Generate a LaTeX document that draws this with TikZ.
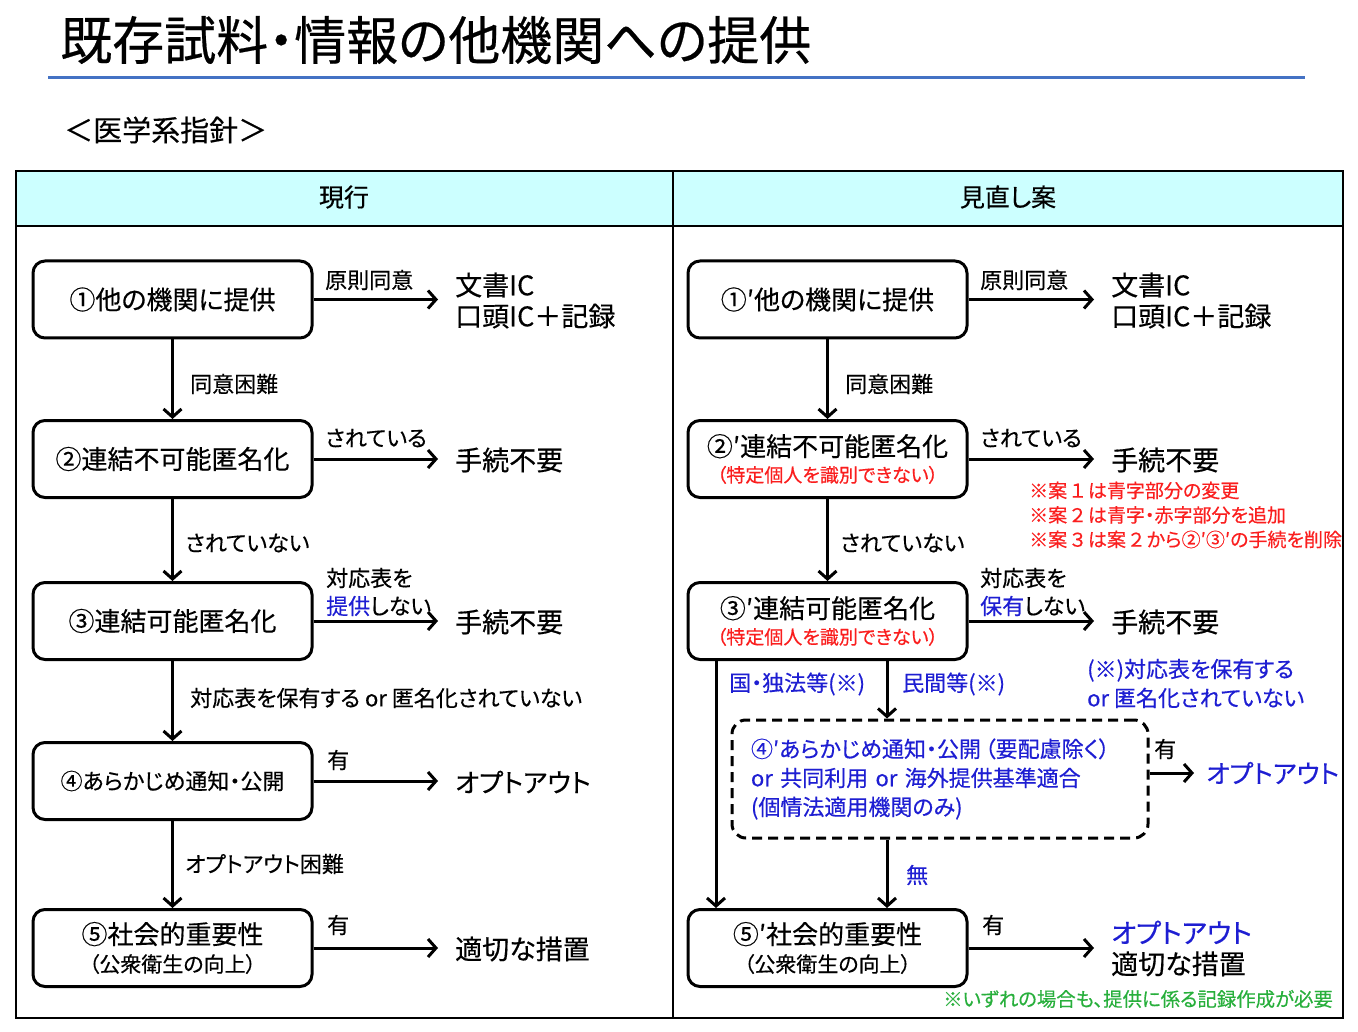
\documentclass[tikz,border=0pt]{standalone}
\usepackage{fontspec}
\setmainfont{Noto Sans CJK JP}[RawFeature={+palt}, FakeBold=0.4]
\usetikzlibrary{arrows.meta}
\newcommand\myfs[2]{\fontsize{#1}{#2}\selectfont}
\definecolor{jblue}{RGB}{30,30,210}
\definecolor{jred}{RGB}{250,30,30}
\definecolor{jgreen}{RGB}{40,175,60}
\definecolor{hdr}{RGB}{204,255,255}
\definecolor{tline}{RGB}{68,114,196}
\begin{document}
\begin{tikzpicture}[x=1pt,y=-1pt,
  box/.style={draw, line width=3pt, rounded corners=12pt, minimum width=279pt, minimum height=77pt, align=center, inner sep=2pt, font=\myfs{26}{30}},
  dbox/.style={draw, line width=3pt, dash pattern=on 10pt off 6pt, rounded corners=14pt, minimum width=416pt, minimum height=118pt, text width=378pt, align=left, font=\myfs{22}{29}, text=jblue},
  arr/.style={line width=3pt, -{Straight Barb[length=8pt,width=18pt]}},
  lbl/.style={anchor=west, inner sep=0pt, font=\myfs{22}{28}, align=left},
  res/.style={anchor=west, inner sep=0pt, font=\myfs{27}{31}, align=left},
  sub/.style={font=\myfs{19}{27}}
]
\useasboundingbox (0,0) rectangle (1358,1032);
% title
\node[anchor=west, inner sep=0pt, font=\myfs{52}{60}] (title) at (60,40) {既存試料・情報の他機関への提供};
\draw[line width=3pt, tline] (48,78) -- (1305,78);
\node[anchor=west, inner sep=0pt, font=\myfs{29}{34}] (subt) at (64,130) {＜医学系指針＞};
% table
\draw[line width=1.5pt, fill=hdr] (16,171) rectangle (1343,226);
\draw[line width=1.5pt] (16,171) rectangle (1343,1018);
\draw[line width=1.5pt] (673,171) -- (673,1018);
\node[font=\myfs{25}{30}] (h1) at (344,197) {現行};
\node[font=\myfs{25}{30}] (h2) at (1008,197) {見直し案};

% ---------- left column ----------
\node[box] (L1) at (172.5,299.5) {①他の機関に提供};
\node[box] (L2) at (172.5,459) {②連結不可能匿名化};
\node[box] (L3) at (172.5,621) {③連結可能匿名化};
\node[box, font=\myfs{22}{26}] (L4) at (172.5,781) {④あらかじめ通知・公開};
\node[box] (L5) at (172.5,948) {⑤社会的重要性\\[-2pt]{\myfs{21}{26}（公衆衛生の向上）}};

\draw[arr] (L1) -- (L2);
\draw[arr] (L2) -- (L3);
\draw[arr] (L3) -- (L4);
\draw[arr] (L4) -- (L5);

\node[lbl] (lv1) at (190,384) {同意困難};
\node[lbl] (lv2) at (185,543) {されていない};
\node[lbl] (lv3) at (190,698) {対応表を保有する or 匿名化されていない};
\node[lbl] (lv4) at (185,864) {オプトアウト困難};

\coordinate (LE1) at (438,299.5);
\coordinate (LE2) at (438,459);
\coordinate (LE3) at (438,621);
\coordinate (LE4) at (438,781);
\coordinate (LE5) at (438,948);
\draw[arr] (L1.east) -- (LE1);
\draw[arr] (L2.east) -- (LE2);
\draw[arr] (L3.east) -- (LE3);
\draw[arr] (L4.east) -- (LE4);
\draw[arr] (L5.east) -- (LE5);

\node[lbl] (lh1) at (325,280) {原則同意};
\node[lbl] (lh2) at (325,438) {されている};
\node[lbl] (lh3) at (326,592) {対応表を\\\textcolor{jblue}{提供}しない};
\node[lbl] (lh4) at (327,760) {有};
\node[lbl] (lh5) at (327,925) {有};

\node[res] (LR1) at (455,300.5) {文書IC\\口頭IC＋記録};
\node[res] (LR2) at (455,460) {手続不要};
\node[res] (LR3) at (455,622) {手続不要};
\node[res, font=\myfs{26}{31}] (LR4) at (455,782) {オプトアウト};
\node[res] (LR5) at (455,949) {適切な措置};

% ---------- right column ----------
\node[box] (R1) at (827.5,299.5) {①′他の機関に提供};
\node[box] (R2) at (827.5,459) {②′連結不可能匿名化\\[-4pt]{\myfs{19}{24}\color{jred}（特定個人を識別できない）}};
\node[box] (R3) at (827.5,621) {③′連結可能匿名化\\[-4pt]{\myfs{19}{24}\color{jred}（特定個人を識別できない）}};
\node[dbox] (R4) at (940,779) {④′あらかじめ通知・公開\,（要配慮除く）\\or 共同利用 or 海外提供基準適合\\(個情法適用機関のみ)};
\node[box] (R5) at (827.5,948) {⑤′社会的重要性\\[-2pt]{\myfs{21}{26}（公衆衛生の向上）}};

\draw[arr] (R1) -- (R2);
\draw[arr] (R2) -- (R3);
\draw[arr] ([xshift=-111.5pt]R3.south) -- ([xshift=-111.5pt]R5.north);
\draw[arr] ([xshift=59.5pt]R3.south) -- ([xshift=59.5pt]R3.south |- R4.north);
\draw[arr] ([xshift=-53pt]R4.south) -- ([xshift=-53pt]R4.south |- R5.north);

\node[lbl] (rv1) at (845,384) {同意困難};
\node[lbl] (rv2) at (840,543) {されていない};
\node[lbl, text=jblue] (rl1) at (729,684) {国・独法等(※)};
\node[lbl, text=jblue] (rl2) at (902,684) {民間等(※)};
\node[lbl, text=jblue] (rl3) at (906,875) {無};

\coordinate (RE1) at (1094,299.5);
\coordinate (RE2) at (1094,459);
\coordinate (RE3) at (1094,621);
\coordinate (RE4) at (1194,773);
\coordinate (RE5) at (1094,948);
\draw[arr] (R1.east) -- (RE1);
\draw[arr] (R2.east) -- (RE2);
\draw[arr] (R3.east) -- (RE3);
\draw[arr] (R4.east |- RE4) -- (RE4);
\draw[arr] (R5.east) -- (RE5);

\node[lbl] (rh1) at (980,280) {原則同意};
\node[lbl] (rh2) at (980,438) {されている};
\node[lbl] (rh3) at (980,592) {対応表を\\\textcolor{jblue}{保有}しない};
\node[lbl] (rh4) at (1154,749) {有};
\node[lbl] (rh5) at (982,925) {有};

\node[res] (RR1) at (1111,300.5) {文書IC\\口頭IC＋記録};
\node[res] (RR2) at (1111,460) {手続不要};
\node[res] (RR3) at (1111,622) {手続不要};
\node[res, text=jblue, font=\myfs{25.5}{31}] (RR4) at (1206,773) {オプトアウト};
\node[res] (RR5) at (1111,948.5) {\textcolor{jblue}{オプトアウト}\\適切な措置};

\node[anchor=west, inner sep=0pt, align=left, font=\myfs{19}{24.5}, text=jred] (n1) at (1029,515) {※案\,１\,は青字部分の変更\\※案\,２\,は青字・赤字部分を追加\\※案\,３\,は案\,２\,から②′③′の手続を削除};
\node[anchor=west, inner sep=0pt, align=left, font=\myfs{22}{29}, text=jblue] (n2) at (1087,683.5) {(※)対応表を保有する\\or 匿名化されていない};
\node[anchor=west, inner sep=0pt, font=\myfs{19.4}{24}, text=jgreen] (n3) at (943,999) {※いずれの場合も、提供に係る記録作成が必要};
\end{tikzpicture}
\end{document}
